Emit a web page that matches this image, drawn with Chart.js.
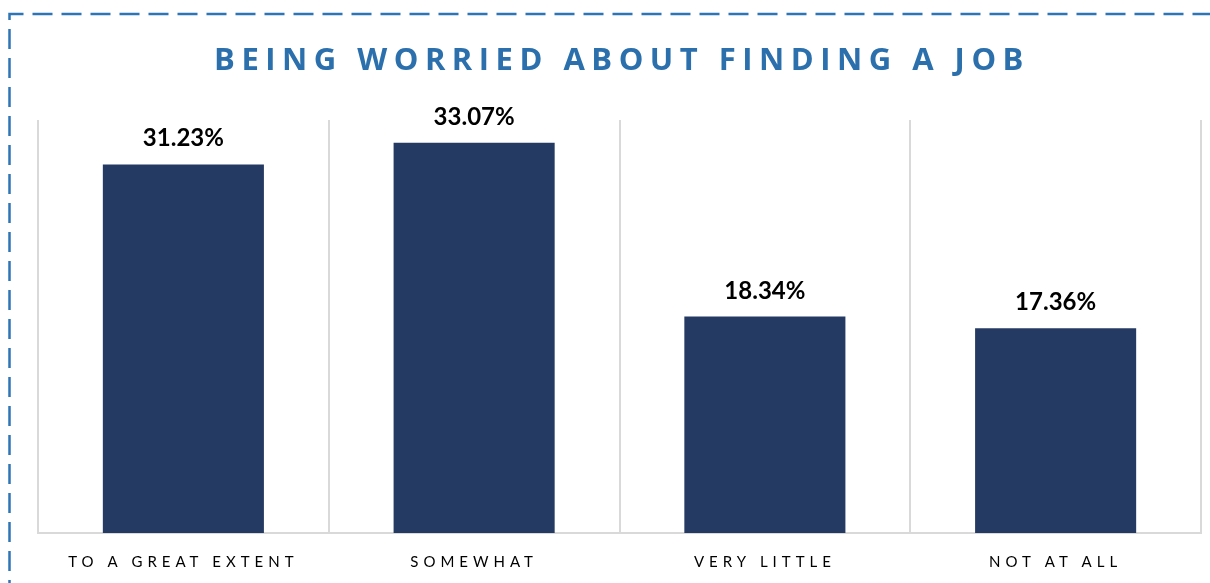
<!DOCTYPE html>
<html>
<head>
<meta charset="utf-8">
<script src="https://cdn.jsdelivr.net/npm/chart.js@4/dist/chart.umd.min.js"></script>
<style>
  html, body { margin: 0; padding: 0; background: #fff; }
  #wrap { position: relative; width: 1210px; height: 583px; overflow: hidden; }
  #title {
    position: absolute; left: 0; top: 38px; width: 1210px; text-align: center;
    font-family: "Open Sans", sans-serif; font-weight: 700; font-size: 31px;
    letter-spacing: 6.5px; color: #2B70AC; line-height: 40px; padding-left: 17px;
  }
</style>
</head>
<body>
<div id="wrap">
  <canvas id="chart" width="1210" height="583"></canvas>
  <div id="title">BEING WORRIED ABOUT FINDING A JOB</div>
</div>
<script>
// chart data
const categories = ['TO A GREAT EXTENT', 'SOMEWHAT', 'VERY LITTLE', 'NOT AT ALL'];
const percentValues = [31.23, 33.07, 18.34, 17.36];
const axisMax = 35;

// dashed frame round the page (only top and left edge are visible)
const framePlugin = {
  id: 'frame',
  beforeDraw(chart) {
    const ctx = chart.ctx;
    ctx.save();
    ctx.strokeStyle = '#2E75B6';
    ctx.lineWidth = 2.5;
    ctx.setLineDash([20, 9]);
    ctx.beginPath();
    ctx.moveTo(9.5, 600);
    ctx.lineTo(9.5, 14);
    ctx.lineTo(1215, 14);
    ctx.stroke();
    ctx.restore();
    // spaced out tick labels
    ctx.letterSpacing = '5px';
  },
  beforeDatasetsDraw(chart) {
    chart.ctx.letterSpacing = '0px';
  }
};

// value labels above the bars
const valueLabels = {
  id: 'valueLabels',
  afterDatasetsDraw(chart) {
    const ctx = chart.ctx;
    const meta = chart.getDatasetMeta(0);
    ctx.save();
    ctx.font = 'bold 24px Lato, sans-serif';
    ctx.fillStyle = '#000';
    ctx.textAlign = 'center';
    ctx.textBaseline = 'alphabetic';
    meta.data.forEach((bar, i) => {
      ctx.fillText(percentValues[i].toFixed(2) + '%', bar.x, bar.y - 18);
    });
    ctx.restore();
  }
};

const ctx = document.getElementById('chart').getContext('2d');
new Chart(ctx, {
  type: 'bar',
  data: {
    labels: categories,
    datasets: [{
      data: percentValues,
      backgroundColor: '#243A62',
      borderWidth: 0,
      categoryPercentage: 1,
      barPercentage: 0.554
    }]
  },
  options: {
    responsive: false,
    animation: false,
    layout: { padding: { left: 38, right: 9, top: 120, bottom: -8 } },
    plugins: {
      legend: { display: false },
      tooltip: { enabled: false },
      title: { display: false }
    },
    scales: {
      x: {
        offset: true,
        grid: {
          offset: true,
          color: '#D9D9D9',
          lineWidth: 2,
          drawTicks: false
        },
        border: { color: '#D9D9D9', width: 2 },
        ticks: {
          color: '#000',
          padding: 20,
          maxRotation: 0,
          font: { family: 'Lato, sans-serif', size: 15 }
        }
      },
      y: {
        display: false,
        min: 0,
        max: axisMax
      }
    }
  },
  plugins: [framePlugin, valueLabels]
});
</script>
</body>
</html>
